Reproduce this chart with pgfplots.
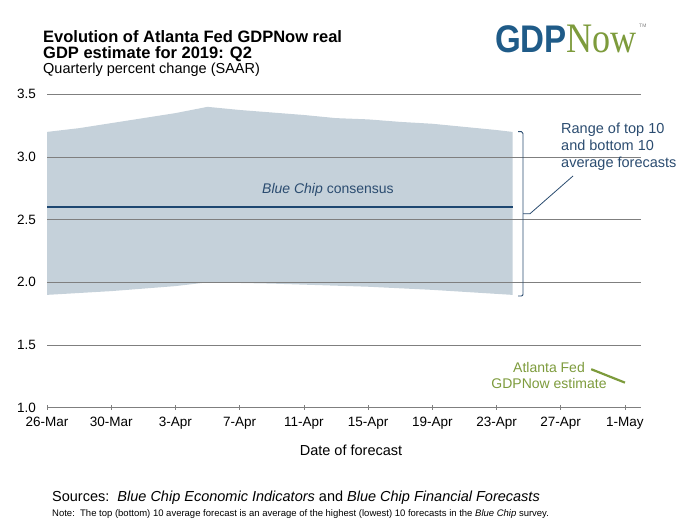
\documentclass[border=0pt]{standalone}
\usepackage{pgfplots}
\pgfplotsset{compat=1.18}
\usepackage{fontspec}
\setmainfont{Liberation Sans}
\newfontfamily\serifont{Liberation Serif}
\definecolor{bandcol}{HTML}{C5D1DA}
\definecolor{linecol}{HTML}{1D4771}
\definecolor{annblue}{HTML}{2B4C70}
\definecolor{gdpblue}{HTML}{1F5B88}
\definecolor{nowgreen}{HTML}{7D9B3C}
\definecolor{gridcol}{HTML}{7F7F7F}
\begin{document}
\begin{tikzpicture}[x=1pt,y=1pt]
\path[use as bounding box] (0,0) rectangle (692,523);
\begin{axis}[
  at={(47pt,115.3pt)}, anchor=south west,
  scale only axis, width=594pt, height=313.4pt,
  xmin=0, xmax=37, ymin=1, ymax=3.5,
  axis line style={draw=none},
  axis on top,
  ytick={1,1.5,2,2.5,3,3.5},
  yticklabel style={/pgf/number format/.cd,fixed,fixed zerofill,precision=1,/tikz/.cd, xshift=-7.5pt, font=\fontsize{13.5}{16}\selectfont},
  ytick style={draw=none},
  ymajorgrids, grid style={gridcol, line width=0.9pt},
  xtick={0,4,8,12,16,20,24,28,32,36},
  xtick pos=bottom,
  xticklabels={26-Mar,30-Mar,3-Apr,7-Apr,11-Apr,15-Apr,19-Apr,23-Apr,27-Apr,1-May},
  xticklabel style={font=\fontsize{13.5}{16}\selectfont, yshift=-4pt},
  xtick align=center, major tick length=4.5pt,
  xtick style={gridcol, line width=0.6pt},
  /pgf/number format/assume math mode=true,
  clip=false,
]
\addplot[fill=bandcol, draw=none] coordinates {
 (0,3.2)(2,3.23)(4,3.27)(6,3.31)(8,3.35)(10,3.40)(12,3.375)(14,3.355)(16,3.335)(18,3.31)(20,3.30)(22,3.28)(24,3.265)(26,3.24)(28,3.215)(29,3.2)
 (29,1.9)(24,1.94)(20,1.965)(14,1.99)(10,2.0)(8,1.97)(4,1.93)(0,1.9)
} --cycle;
\addplot[linecol, line width=2.6pt] coordinates {(0,2.6)(29,2.6)};
\addplot[nowgreen, line width=2.2pt] coordinates {(33.9,1.307)(36,1.2)};
\node[annblue, font=\fontsize{14}{16}\selectfont] at (axis cs:17.5,2.74) {\textit{Blue Chip} consensus};
\end{axis}
% bracket
\draw[annblue, line width=0.9pt] (518,523-131.7) -- (521.5,523-131.7) to[out=0,in=90] (523,523-133.5) -- (523,523-294) to[out=-90,in=0] (521.5,523-296) -- (518,523-296);
\draw[annblue, line width=0.8pt] (523,523-213.7) -- (530,523-213.7) -- (573,523-176);
\node[annblue, anchor=north west, align=left, font=\fontsize{14.5}{17}\selectfont, inner sep=0pt] at (561,523-123) {Range of top 10\\and bottom 10\\average forecasts};
\node[nowgreen, align=center, font=\fontsize{14}{16}\selectfont, inner sep=0pt] at (549,523-375) {Atlanta Fed\\GDPNow estimate};
% titles
\node[anchor=base west, align=left, font=\fontsize{16.5}{16}\selectfont\bfseries, inner sep=0pt] at (43,523-43) {Evolution of Atlanta Fed GDPNow real};
\node[anchor=base west, align=left, font=\fontsize{16.5}{16}\selectfont\bfseries, inner sep=0pt] at (43,523-59) {GDP estimate for 2019: Q2};
\node[anchor=base west, font=\fontsize{14.5}{16}\selectfont, inner sep=0pt] at (43,523-73.5) {Quarterly percent change (SAAR)};
\node[font=\fontsize{14.5}{16}\selectfont, inner sep=0pt] at (351,523-450) {Date of forecast};
\node[anchor=west, font=\fontsize{14.5}{16}\selectfont, inner sep=0pt] at (52,523-497.5) {Sources:\ \ \textit{Blue Chip Economic Indicators} and \textit{Blue Chip Financial Forecasts}};
\node[anchor=west, font=\fontsize{9.5}{11}\selectfont, inner sep=0pt] at (52,523-514) {Note:\ \ The top (bottom) 10 average forecast is an average of the highest (lowest) 10 forecasts in the \textit{Blue Chip} survey.};
% logo
\node[anchor=south west, inner sep=0pt, gdpblue] at (495,523-53) {\scalebox{0.86}[1]{\fontsize{38.5}{40}\selectfont\bfseries GDP}};
\node[anchor=south west, inner sep=0pt, nowgreen] at (566,523-53) {\scalebox{0.86}[1]{\fontsize{42}{44}\serifont Now}};
\node[anchor=west, inner sep=0pt, font=\fontsize{5}{6}\selectfont, gray] at (639,523-26) {TM};
\end{tikzpicture}
\end{document}
